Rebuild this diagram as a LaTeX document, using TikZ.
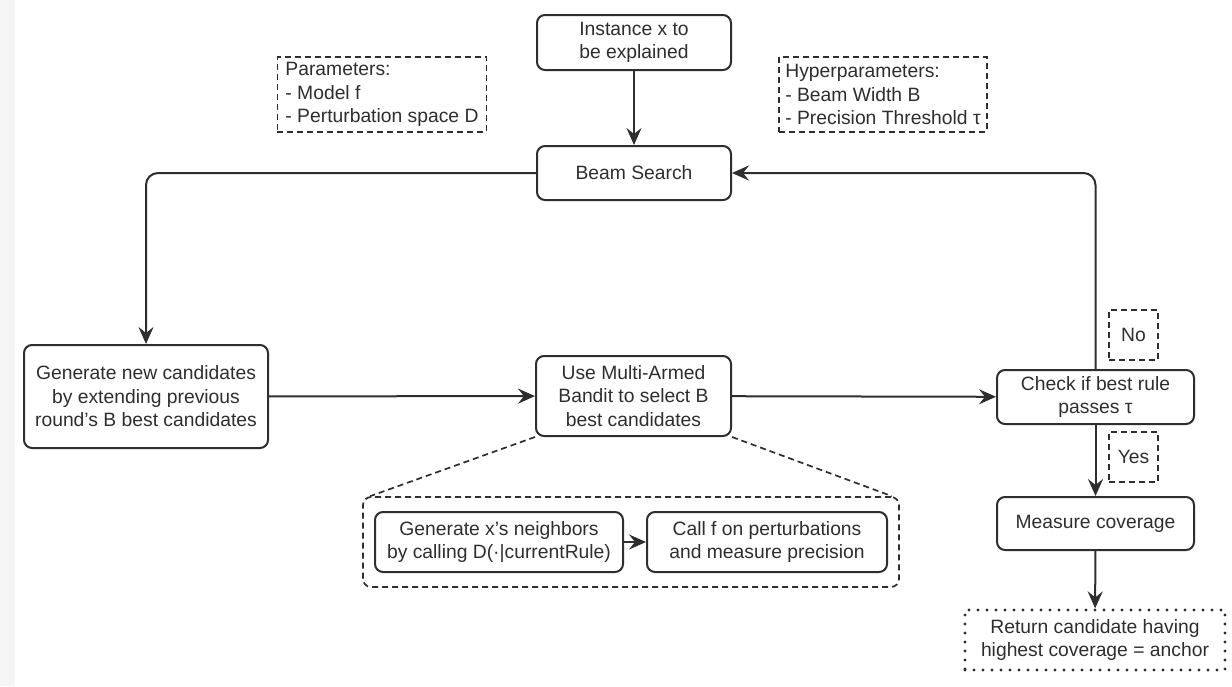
\documentclass[tikz,border=0pt]{standalone}
\usepackage{fontspec}
\setmainfont{Liberation Sans}
\usetikzlibrary{arrows.meta}
\definecolor{ink}{HTML}{2E2E2E}
\begin{document}
\begin{tikzpicture}[x=1pt,y=-1pt,
  every node/.style={font=\fontsize{19.3}{23.5}\selectfont, text=ink},
  box/.style={draw=ink, line width=2pt, rounded corners=8pt, inner sep=0pt, align=center},
  note/.style={draw=ink, line width=1.7pt, dash pattern=on 6pt off 4pt, inner sep=0pt},
  result/.style={draw=ink, line width=3.2pt, dash pattern=on 0pt off 9pt, line cap=round, inner sep=0pt, align=center},
  flow/.style={draw=ink, line width=2pt, -{Stealth[length=17pt,width=15pt,inset=6pt]}},
  link/.style={draw=ink, line width=1.7pt, dash pattern=on 6pt off 4pt}]
  % canvas and left margin strip
  \useasboundingbox (0,0) rectangle (1232,686);
  \fill[white] (0,0) rectangle (1232,686);
  \fill[black!4] (0,0) rectangle (15,686);

  % main flow boxes
  \node[box, minimum width=194pt, minimum height=55pt] (inst) at (634,42.5) {Instance x to\\be explained};
  \node[box, minimum width=194pt, minimum height=54pt] (beam) at (634,173) {Beam Search};
  \node[box, minimum width=244pt, minimum height=103pt] (gen) at (146,396.5) {Generate new candidates\\by extending previous\\round's B best candidates};
  \node[box, minimum width=195pt, minimum height=80pt] (mab) at (633.5,396) {Use Multi-Armed\\Bandit to select B\\best candidates};
  \node[box, minimum width=197pt, minimum height=54pt] (check) at (1095.5,397) {Check if best rule\\passes τ};
  \node[box, minimum width=197pt, minimum height=53pt] (meas) at (1095.5,523.5) {Measure coverage};
  \node[result, minimum width=260pt, minimum height=60pt] (ret) at (1095,640) {Return candidate having\\highest coverage = anchor};

  % parameter notes
  \node[note, inner xsep=8pt, minimum height=75pt, align=left] (params) at (382,94.5) {Parameters:\\- Model f\\- Perturbation space D};
  \node[note, inner xsep=6pt, minimum height=75pt, align=left] (hyper) at (883,94.5) {Hyperparameters:\\- Beam Width B\\- Precision Threshold τ};

  % branch labels
  \node[note, minimum width=49pt, minimum height=50pt] (no) at (1133.5,335) {No};
  \node[note, minimum width=49pt, minimum height=50pt] (yes) at (1133.5,457) {Yes};

  % detail of the bandit step
  \node[note, rounded corners=8pt, minimum width=536pt, minimum height=90pt] (cont) at (631,542) {};
  \node[box, minimum width=248pt, minimum height=60pt] (nb) at (499,542) {Generate x's neighbors\\by calling D(·|currentRule)};
  \node[box, minimum width=240pt, minimum height=60pt] (cf) at (767,542) {Call f on perturbations\\and measure precision};

  % connectors
  \draw[flow] (inst) -- (beam);
  \draw[flow, rounded corners=12pt] (beam.west) -| (gen.north);
  \draw[flow] (gen) -- (mab);
  \draw[flow] (mab) -- (check);
  \draw[flow, rounded corners=12pt] (check.north) |- (beam.east);
  \draw[flow] (check) -- (meas);
  \draw[flow] (meas) -- (ret);
  \draw[flow] (nb) -- (cf);
  \draw[link] (mab.south west) -- ([xshift=8pt]cont.north west);
  \draw[link] (mab.south east) -- ([xshift=-8pt]cont.north east);
\end{tikzpicture}
\end{document}
